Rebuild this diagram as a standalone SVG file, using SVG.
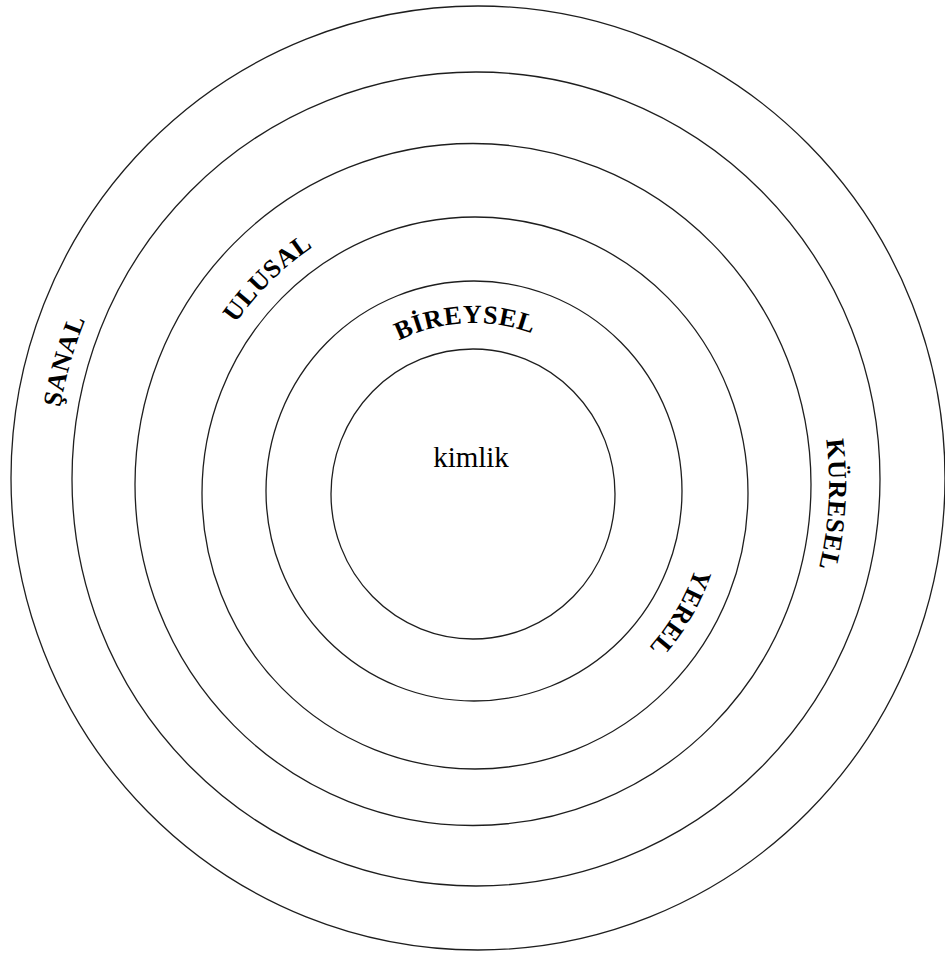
<svg xmlns="http://www.w3.org/2000/svg" xmlns:xlink="http://www.w3.org/1999/xlink" width="945" height="953" viewBox="0 0 945 953">
<style>
.ring{fill:none;stroke:#1e1e1e;stroke-width:1.3}
.lbl{font-family:"Liberation Serif","Times New Roman",serif;font-weight:bold;font-size:26px;letter-spacing:0.8px;fill:#000}
.core{font-family:"Liberation Serif","Times New Roman",serif;font-size:29px;fill:#000}
</style>
<defs>
<path id="pBir" d="M305,492 A169,169 0 0 1 643,492"/>
<path id="pYer" d="M240,492 A234,234 0 0 1 708,492"/>
<path id="pUlu" d="M185,487 A289,289 0 0 1 763,487"/>
<path id="pKur" d="M121,484 A354,354 0 0 1 829,484"/>
<path id="pSan" d="M54,480 A423,423 0 0 1 900,480"/>
</defs>
<rect width="945" height="953" fill="#fff"/>
<g id="sanal">
<ellipse class="ring" cx="478" cy="478" rx="467" ry="472"/>
<text class="lbl" transform="rotate(-73.9 477 480)"><textPath href="#pSan" xlink:href="#pSan" startOffset="50%" text-anchor="middle">ŞANAL</textPath></text>
</g>
<g id="kuresel">
<ellipse class="ring" cx="476" cy="479" rx="404" ry="407"/>
<text class="lbl" transform="rotate(93.3 475 484)"><textPath href="#pKur" xlink:href="#pKur" startOffset="50%" text-anchor="middle">KÜRESEL</textPath></text>
</g>
<g id="ulusal">
<ellipse class="ring" cx="473" cy="484.5" rx="338" ry="341"/>
<text class="lbl" transform="rotate(-44.6 474 487)"><textPath href="#pUlu" xlink:href="#pUlu" startOffset="50%" text-anchor="middle">ULUSAL</textPath></text>
</g>
<g id="yerel">
<ellipse class="ring" cx="475" cy="493" rx="273" ry="276"/>
<text class="lbl" transform="rotate(120.4 474 492)"><textPath href="#pYer" xlink:href="#pYer" startOffset="50%" text-anchor="middle">YEREL</textPath></text>
</g>
<g id="bireysel">
<ellipse class="ring" cx="474" cy="491" rx="208" ry="210"/>
<text class="lbl" transform="rotate(-3 474 492)"><textPath href="#pBir" xlink:href="#pBir" startOffset="50%" text-anchor="middle">BİREYSEL</textPath></text>
</g>
<g id="kimlik">
<ellipse class="ring" cx="473" cy="494" rx="142" ry="145"/>
<text class="core" x="471" y="467" text-anchor="middle">kimlik</text>
</g>
</svg>
